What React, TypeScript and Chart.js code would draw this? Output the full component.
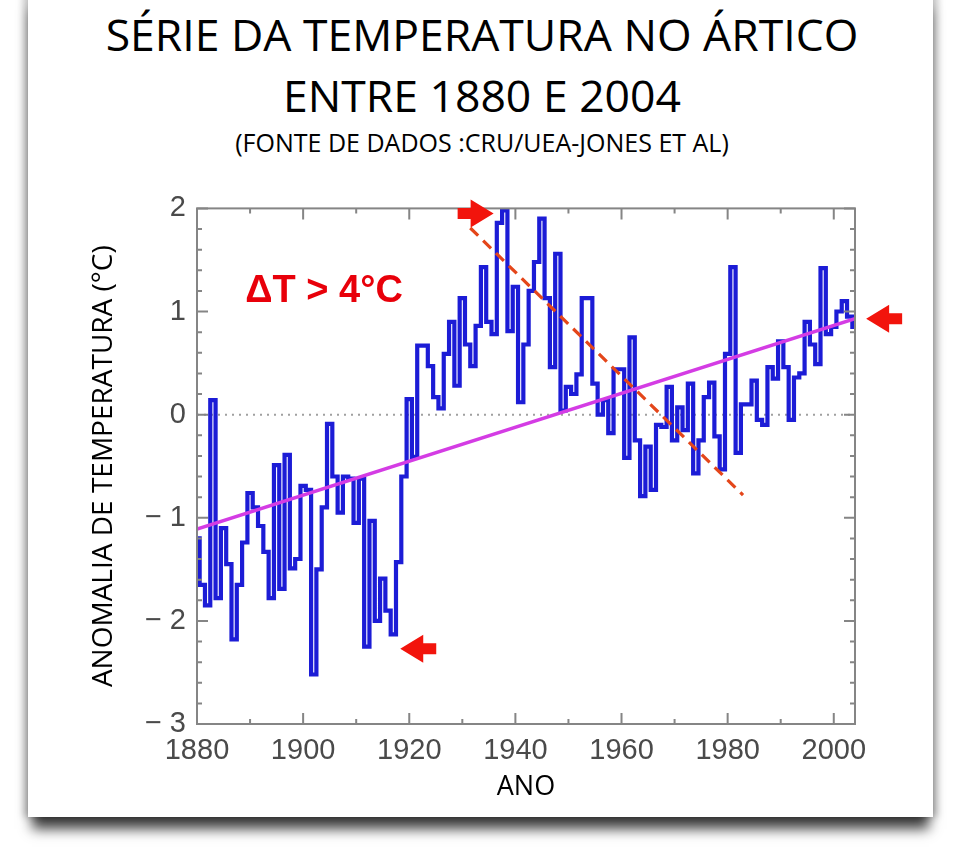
import React, { useEffect, useRef } from 'react';
import { Chart, registerables } from 'chart.js';

Chart.register(...registerables);

// ---------- DATA ----------
const FIRST_YEAR = 1880;
const LAST_YEAR = 2004;

// Arctic temperature anomaly (°C), one value per year 1880..2004
const anomalies: number[] = [
  -1.2, -1.65, -1.85, 0.14, -1.78, -1.1, -1.45, -2.18, -1.65, -1.24, // 1880-1889
  -0.76, -0.9, -1.08, -1.33, -1.78, -0.49, -1.69, -0.39, -1.49, -1.4, // 1890-1899
  -0.69, -0.73, -2.52, -1.5, -0.9, -0.09, -0.6, -0.95, -0.6, -0.62, // 1900-1909
  -1.05, -0.62, -2.25, -1.03, -2.0, -1.59, -1.9, -2.13, -1.43, -0.6, // 1910-1919
  0.15, -0.41, 0.67, 0.67, 0.47, 0.17, 0.06, 0.59, 0.9, 0.28, // 1920-1929
  1.13, 0.68, 0.47, 0.86, 1.43, 0.9, 0.78, 1.86, 1.98, 0.81, // 1930-1939
  1.24, 0.12, 0.68, 1.2, 1.48, 1.9, 1.13, 0.46, 1.56, 0.04, // 1940-1949
  0.27, 0.2, 0.39, 1.13, 1.13, 0.3, 0.0, 0.14, -0.18, 0.44, // 1950-1959
  0.44, -0.42, 0.75, -0.25, -0.79, -0.31, -0.73, -0.1, -0.12, 0.27, // 1960-1969
  -0.25, 0.07, -0.15, 0.3, -0.57, -0.25, 0.17, 0.31, -0.21, -0.53, // 1970-1979
  0.59, 1.43, -0.37, 0.1, 0.1, 0.33, -0.05, -0.1, 0.46, 0.35, // 1980-1989
  0.71, 0.46, -0.05, 0.36, 0.4, 0.9, 0.68, 0.49, 1.42, 0.78, // 1990-1999
  0.85, 1.0, 1.1, 0.95, 0.85, // 2000-2004
];
const years: number[] = anomalies.map((_, i) => FIRST_YEAR + i);

// Linear trend (magenta) endpoints
const trendYears = [1880, 2004];
const trendValues = [-1.11, 0.93];

// Dashed decline line endpoints
const declineYears = [1931.5, 1982.9];
const declineValues = [1.81, -0.78];

// Red arrow annotations (tip position) and direction (1 = points right, -1 = points left)
const arrowYears = [1935.9, 2006.1, 1918.3];
const arrowValues = [1.95, 0.93, -2.27];
const arrowDirs = [1, -1, -1];

// Annotation text
const deltaLabel = 'ΔT > 4°C';
const deltaYear = 1889.1;
const deltaValue = 1.19;

// Axis ticks
const yMin = -3;
const yMax = 2;
const xMajorStep = 20;
const xMinorStep = 10;
const yMajorStep = 1;
const yMinorStep = 0.2;
const zeroLine = 0;

// ---------- STYLE ----------
const BLUE = '#1c1cd6';
const MAGENTA = '#d43ce4';
const ORANGE = '#e4461a';
const RED = '#f2140c';
const FRAME = '#858585';
const TICK_TEXT = '#4a4a4a';
const CALIBRI_LIKE = '"Open Sans", "Noto Sans", sans-serif';

const framePlugin = {
  id: 'frameTicks',
  beforeDatasetsDraw(chart: any) {
    const { ctx, chartArea: a, scales } = chart;
    const y0 = scales.y.getPixelForValue(zeroLine);
    ctx.save();
    ctx.strokeStyle = '#a0a0a0';
    ctx.lineWidth = 2;
    ctx.setLineDash([2, 5]);
    ctx.beginPath();
    ctx.moveTo(a.left, y0);
    ctx.lineTo(a.right, y0);
    ctx.stroke();
    ctx.restore();
  },
  afterDatasetsDraw(chart: any) {
    const { ctx, chartArea: a, scales } = chart;
    const xs = scales.x;
    const ys = scales.y;
    ctx.save();
    ctx.strokeStyle = FRAME;
    ctx.lineWidth = 2;
    ctx.strokeRect(a.left, a.top, a.right - a.left, a.bottom - a.top);
    const MAJ = 11;
    const MIN = 5;
    ctx.beginPath();
    const nx = Math.floor((xs.max - xs.min) / xMinorStep);
    for (let k = 0; k <= nx; k++) {
      const v = xs.min + k * xMinorStep;
      const px = xs.getPixelForValue(v);
      const len = (v - xs.min) % xMajorStep === 0 ? MAJ : MIN;
      ctx.moveTo(px, a.bottom);
      ctx.lineTo(px, a.bottom - len);
      ctx.moveTo(px, a.top);
      ctx.lineTo(px, a.top + len);
    }
    const ny = Math.round((yMax - yMin) / yMinorStep);
    const perMajor = Math.round(yMajorStep / yMinorStep);
    for (let k = 0; k <= ny; k++) {
      const v = yMin + k * yMinorStep;
      const py = ys.getPixelForValue(v);
      const len = k % perMajor === 0 ? MAJ : MIN;
      ctx.moveTo(a.left, py);
      ctx.lineTo(a.left + len, py);
      ctx.moveTo(a.right, py);
      ctx.lineTo(a.right - len, py);
    }
    ctx.stroke();
    ctx.restore();
  },
  afterDraw(chart: any) {
    const { ctx, scales } = chart;
    const xs = scales.x;
    const ys = scales.y;
    ctx.save();
    ctx.fillStyle = RED;
    const L = 36, H = 23, HH = 14, SH = 5.5;
    for (let i = 0; i < arrowYears.length; i++) {
      const tx = xs.getPixelForValue(arrowYears[i]);
      const ty = ys.getPixelForValue(arrowValues[i]);
      const d = arrowDirs[i];
      ctx.beginPath();
      ctx.moveTo(tx, ty);
      ctx.lineTo(tx - d * H, ty - HH);
      ctx.lineTo(tx - d * H, ty - SH);
      ctx.lineTo(tx - d * L, ty - SH);
      ctx.lineTo(tx - d * L, ty + SH);
      ctx.lineTo(tx - d * H, ty + SH);
      ctx.lineTo(tx - d * H, ty + HH);
      ctx.closePath();
      ctx.fill();
    }
    ctx.fillStyle = '#e8000a';
    ctx.font = 'bold 38px "Liberation Sans", Arial, sans-serif';
    ctx.textAlign = 'left';
    ctx.textBaseline = 'middle';
    ctx.fillText(deltaLabel, xs.getPixelForValue(deltaYear), ys.getPixelForValue(deltaValue));
    ctx.restore();
  },
};

function ArcticChart() {
  const ref = useRef<HTMLCanvasElement | null>(null);
  useEffect(() => {
    if (!ref.current) return;
    const chart = new Chart(ref.current, {
      type: 'line',
      data: {
        datasets: [
          {
            label: 'Tendência',
            data: trendYears.map((x, i) => ({ x, y: trendValues[i] })),
            borderColor: MAGENTA,
            borderWidth: 3.5,
            pointRadius: 0,
            order: 0,
          },
          {
            label: 'Declínio',
            data: declineYears.map((x, i) => ({ x, y: declineValues[i] })),
            borderColor: ORANGE,
            borderWidth: 3.2,
            borderDash: [11, 7],
            pointRadius: 0,
            order: 1,
          },
          {
            label: 'Anomalia de temperatura',
            data: years.map((x, i) => ({ x, y: anomalies[i] })),
            borderColor: BLUE,
            borderWidth: 4.2,
            pointRadius: 0,
            stepped: 'middle',
            order: 2,
          },
        ],
      },
      options: {
        animation: false,
        responsive: false,
        devicePixelRatio: 1,
        layout: { padding: { top: 23, right: 65, left: 0, bottom: 0 } },
        plugins: {
          legend: { display: false },
          tooltip: { enabled: false },
        },
        scales: {
          x: {
            type: 'linear',
            min: FIRST_YEAR,
            max: LAST_YEAR,
            grid: { display: false, drawTicks: false },
            border: { display: false },
            ticks: {
              stepSize: xMajorStep,
              includeBounds: false,
              autoSkip: false,
              maxRotation: 0,
              padding: 10,
              color: TICK_TEXT,
              font: { family: '"Liberation Sans", Arial, sans-serif', size: 29 },
              callback: (v: any) => String(v),
            },
            title: {
              display: true,
              text: 'ANO',
              color: '#000',
              font: { family: CALIBRI_LIKE, size: 27 },
              padding: { top: 0, bottom: 16 },
            },
            afterFit: (s: any) => {
              s.height = 96;
            },
          },
          y: {
            type: 'linear',
            min: yMin,
            max: yMax,
            grid: { display: false, drawTicks: false },
            border: { display: false },
            ticks: {
              stepSize: yMajorStep,
              padding: 11,
              color: TICK_TEXT,
              font: { family: '"Liberation Sans", Arial, sans-serif', size: 29 },
              callback: (v: any) => (v < 0 ? '\u2212 ' + Math.abs(v) : String(v)),
            },
            title: {
              display: true,
              text: 'ANOMALIA DE TEMPERATURA (°C)',
              color: '#000',
              font: { family: CALIBRI_LIKE, size: 28 },
              padding: { top: 27, bottom: 0 },
            },
            afterFit: (s: any) => {
              s.width = 137;
            },
          },
        },
      },
      plugins: [framePlugin],
    } as any);
    return () => chart.destroy();
  }, []);
  return (
    <canvas
      ref={ref}
      width={860}
      height={640}
      style={{ position: 'absolute', left: 60, top: 180, width: 860, height: 640 }}
    />
  );
}

export default function App() {
  const titleBase: React.CSSProperties = {
    position: 'absolute',
    left: 0,
    width: 964,
    textAlign: 'center',
    fontFamily: CALIBRI_LIKE,
    color: '#000',
    whiteSpace: 'nowrap',
  };
  return (
    <div
      style={{
        position: 'fixed',
        left: 0,
        top: 0,
        width: 960,
        height: 857,
        background: '#fff',
        overflow: 'hidden',
      }}
    >
      <div
        style={{
          position: 'absolute',
          left: 28,
          top: -10,
          width: 905,
          height: 827,
          background: '#fff',
          boxShadow:
            '0 16px 12px -4px rgba(0,0,0,0.75), -5px 0 7px rgba(0,0,0,0.22), 5px 0 7px rgba(0,0,0,0.22)',
        }}
      />
      <div style={{ ...titleBase, top: 12, fontSize: 44.5, lineHeight: '44.5px' }}>
        SÉRIE DA TEMPERATURA NO ÁRTICO
      </div>
      <div style={{ ...titleBase, top: 73, fontSize: 44.5, lineHeight: '44.5px' }}>
        ENTRE 1880 E 2004
      </div>
      <div style={{ ...titleBase, top: 130, fontSize: 25, lineHeight: '25px' }}>
        (FONTE DE DADOS :CRU/UEA-JONES ET AL)
      </div>
      <ArcticChart />
    </div>
  );
}
